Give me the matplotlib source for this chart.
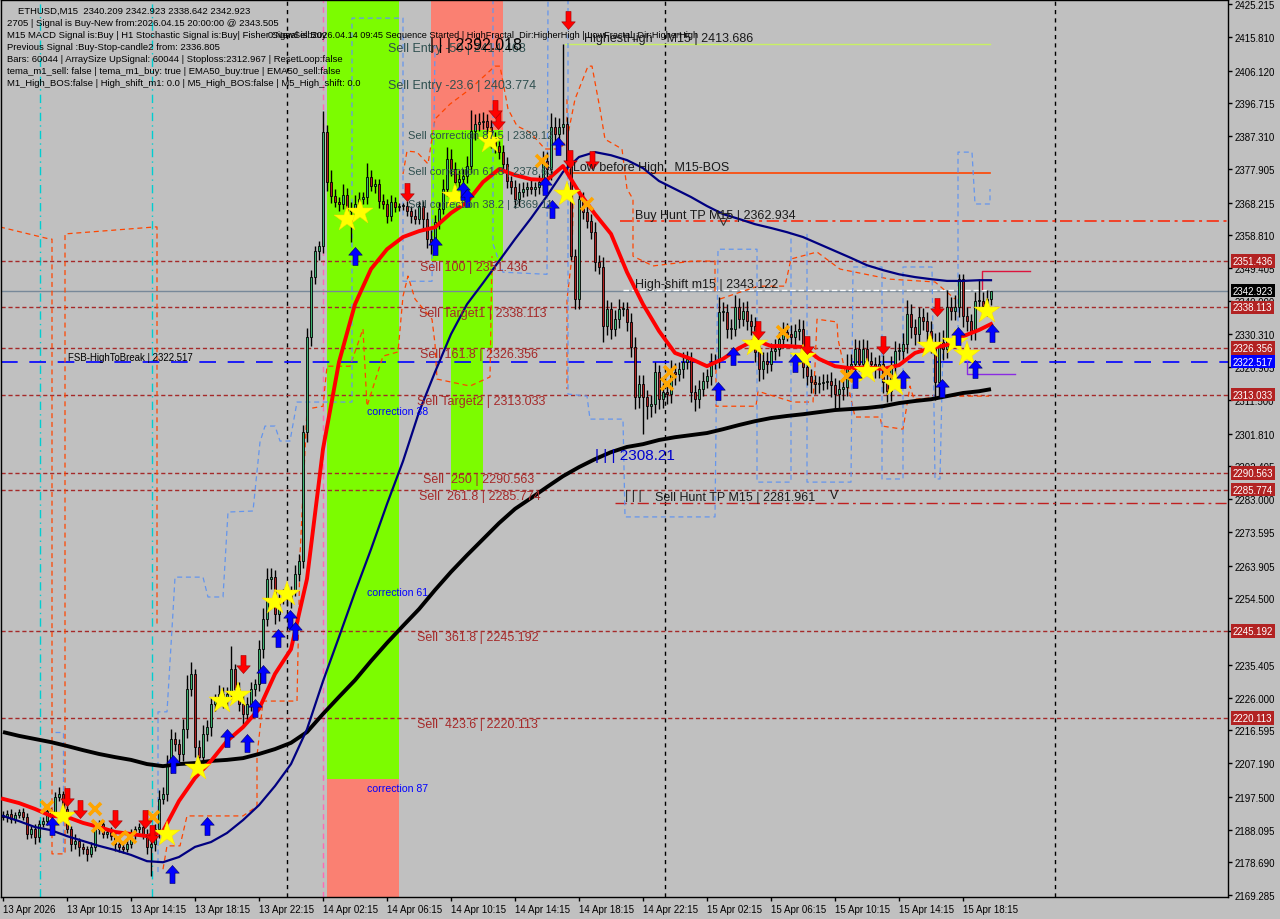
import matplotlib
matplotlib.use('Agg')
import matplotlib.pyplot as plt
from matplotlib.path import Path
from matplotlib.patches import Rectangle
import matplotlib.transforms as mtrans
import numpy as np

plt.rcParams['font.family'] = ['Liberation Sans', 'DejaVu Sans']

# ---------------- data ----------------
first_open = 2192.3
closes = [
 2191.7, 2192.6, 2191.1, 2192.3, 2193.1, 2191.7, 2186.8, 2188.2, 2185.9, 2189.7, 2190.5, 2193.4, 2192.6, 2197.4, 2198.3, 2194.0,
 2188.2, 2183.9, 2184.8, 2183.1, 2182.5, 2181.1, 2183.1, 2188.2, 2189.7, 2186.8, 2187.4, 2186.2, 2183.9, 2183.1, 2182.5, 2183.9,
 2186.8, 2188.2, 2188.8, 2186.8, 2183.1, 2183.9, 2188.2, 2196.9, 2198.3, 2206.9, 2214.1, 2212.7, 2209.8, 2216.9, 2228.5, 2232.8,
 2211.8, 2208.9, 2215.5, 2217.5, 2224.1, 2225.6, 2227.0, 2225.6, 2227.0, 2234.2, 2228.5, 2224.1, 2221.3, 2224.1, 2228.5, 2229.9,
 2239.9, 2248.6, 2260.1, 2260.6, 2250.0, 2254.3, 2255.7, 2254.3, 2256.6, 2261.5, 2265.2, 2302.3, 2329.6, 2346.8, 2354.3, 2355.7,
 2388.4, 2374.1, 2370.1, 2368.3, 2367.8, 2370.4, 2365.8, 2366.3, 2367.8, 2369.2, 2369.8, 2375.5, 2372.9, 2373.5, 2368.6, 2367.8,
 2364.3, 2368.3, 2366.9, 2367.2, 2367.2, 2365.8, 2364.3, 2363.5, 2367.2, 2363.5, 2357.7, 2356.9, 2362.6, 2366.3, 2372.1, 2380.7,
 2377.8, 2374.1, 2375.0, 2375.8, 2378.7, 2388.7, 2390.7, 2391.3, 2391.6, 2389.9, 2386.4, 2384.4, 2382.7, 2379.3, 2374.4, 2372.6,
 2369.2, 2371.2, 2372.1, 2372.6, 2372.1, 2372.6, 2374.1, 2380.1, 2377.8, 2389.9, 2387.9, 2389.9, 2390.7, 2379.8, 2352.8, 2340.5,
 2369.2, 2365.5, 2362.9, 2359.7, 2351.1, 2349.7, 2332.7, 2337.6, 2331.9, 2334.7, 2337.6, 2337.6, 2333.9, 2326.7, 2312.3, 2316.1,
 2312.3, 2309.7, 2310.3, 2319.5, 2311.8, 2313.8, 2313.2, 2319.5, 2318.9, 2320.4, 2322.4, 2323.2, 2313.8, 2311.8, 2314.6, 2316.9,
 2318.4, 2322.4, 2322.7, 2336.7, 2336.7, 2331.9, 2331.9, 2338.2, 2334.7, 2337.0, 2334.2, 2332.7, 2325.3, 2320.4, 2322.7, 2321.8,
 2325.5, 2326.1, 2329.0, 2331.0, 2330.4, 2329.6, 2331.3, 2331.9, 2320.9, 2318.4, 2316.6, 2316.1, 2316.4, 2316.6, 2316.9, 2315.8,
 2313.2, 2314.6, 2315.2, 2321.2, 2321.8, 2326.1, 2321.8, 2326.1, 2322.7, 2321.8, 2320.4, 2321.8, 2316.6, 2314.1, 2321.2, 2325.5,
 2325.5, 2327.6, 2336.2, 2332.4, 2330.4, 2335.3, 2334.2, 2331.3, 2328.1, 2316.6, 2328.1, 2326.1, 2338.2, 2337.0, 2338.2, 2346.2,
 2335.6, 2334.2, 2331.3, 2339.9, 2339.9, 2338.5, 2340.5, 2342.9]
wick_hi = [
 1.2,1.0,1.5,0.8,1.0,1.2,1.0,0.8,1.5,1.0,1.2,2.0,1.0,1.5,2.0,1.0,
 1.5,1.0,2.0,1.0,1.2,1.0,1.5,2.0,1.0,1.2,1.0,1.5,1.0,0.8,1.0,1.2,
 1.5,1.0,1.2,1.0,1.5,2.0,1.5,2.5,2.0,2.5,3.0,2.0,1.5,3.0,4.0,3.5,
 1.5,2.0,2.5,2.0,2.0,1.5,2.5,2.0,2.0,6.6,1.5,2.0,2.5,2.0,2.0,1.5,
 2.5,3.0,3.0,2.5,2.0,1.5,1.5,2.0,1.5,2.5,2.0,2.0,2.5,2.0,1.5,1.5,
 6.0,2.0,3.5,2.0,1.5,3.0,2.0,2.0,2.5,2.0,1.5,4.0,2.0,1.5,1.5,2.0,
 1.5,2.0,1.5,1.0,1.0,1.5,1.5,2.0,1.5,1.5,2.0,2.5,2.0,2.0,3.0,3.5,
 3.0,2.0,2.5,2.0,3.0,6.0,3.0,2.5,2.5,2.0,2.0,2.0,1.5,2.0,2.0,1.5,
 2.0,2.5,2.0,1.5,2.0,1.5,2.0,3.0,2.5,4.0,3.0,2.5,23.0,2.0,2.0,2.0,
 3.0,2.0,2.0,2.0,3.0,2.0,3.0,2.5,2.0,2.5,3.0,2.0,2.0,2.5,3.0,2.5,
 2.5,2.0,2.5,3.0,2.0,2.5,2.0,3.5,2.5,2.0,3.0,2.5,2.0,2.0,2.5,2.5,
 2.0,2.5,2.0,4.3,3.0,2.5,3.0,3.5,2.5,2.5,3.0,2.0,2.5,2.0,2.5,2.5,
 2.5,3.0,2.0,3.0,2.5,2.5,2.0,3.0,2.5,2.5,2.0,2.0,2.0,2.5,2.0,2.5,
 2.0,2.5,2.5,3.5,3.0,3.0,2.5,3.0,2.5,2.5,2.0,2.5,2.5,2.5,3.0,3.0,
 2.5,3.0,4.0,3.0,2.5,3.0,2.5,2.5,3.0,2.5,3.0,3.5,5.0,3.0,3.5,1.5,
 1.5,2.5,2.0,2.5,6.3,2.5,2.5,0.0]
wick_lo = [
 1.0,1.5,1.2,1.0,0.8,1.0,1.5,1.2,2.0,1.5,1.0,1.2,1.0,1.0,1.2,1.5,
 1.2,2.0,1.5,2.5,1.5,2.0,1.0,1.2,1.5,1.0,1.2,1.0,2.0,1.5,1.2,1.0,
 1.0,1.5,1.2,1.5,2.0,8.3,2.0,2.5,1.5,2.0,2.5,2.0,3.0,2.0,2.5,2.0,
 3.0,4.0,3.5,2.0,2.5,2.0,1.5,2.5,2.0,1.5,2.5,2.0,3.0,2.5,2.0,2.0,
 2.0,2.5,2.0,3.0,3.0,2.0,1.5,2.0,2.5,1.5,2.0,2.0,3.0,2.5,2.0,2.5,
 2.0,2.5,2.0,1.5,2.0,1.5,3.0,8.9,2.5,2.0,1.5,2.0,1.5,2.0,2.0,1.5,
 2.0,1.5,1.5,1.0,1.0,1.5,2.0,1.5,1.5,3.0,2.5,3.5,2.0,2.0,1.5,2.0,
 2.0,2.5,2.0,2.5,2.0,2.0,2.5,2.0,2.0,2.0,2.5,2.0,2.0,2.5,2.0,2.0,
 2.5,2.0,1.5,2.0,1.5,2.0,2.0,2.5,3.0,3.0,2.0,2.5,2.0,2.5,1.0,3.0,
 2.9,2.0,2.0,2.0,2.5,2.0,4.6,2.5,3.0,2.0,2.5,2.0,2.5,3.0,3.4,3.0,
 10.6,3.7,3.0,2.5,3.0,2.5,3.0,2.5,3.0,2.0,2.5,2.0,3.0,3.5,2.5,2.0,
 2.0,2.5,2.0,2.0,2.5,2.5,3.0,2.0,2.5,2.0,2.5,2.5,3.0,3.5,3.0,2.5,
 2.0,2.5,2.0,2.5,2.0,2.0,2.5,2.5,3.0,2.5,3.0,3.0,2.5,2.0,2.0,3.5,
 4.5,4.0,3.0,2.5,2.0,2.5,2.0,2.5,2.0,2.0,2.5,2.5,3.0,3.2,3.0,2.5,
 2.5,2.5,2.5,3.0,3.0,2.5,2.5,3.0,3.0,5.0,4.0,3.0,2.5,2.5,2.5,3.0,
 3.0,3.0,2.5,2.5,2.5,2.5,3.0,1.6]

ma_bars = list(range(0, 248, 4)) + [247]
ema_red = [2196.9, 2195.7, 2194.0, 2192.0, 2191.7, 2190.0, 2188.8, 2187.4, 2186.8, 2186.2, 2187.6, 2196.3, 2202.9,
           2207.8, 2213.5, 2217.5, 2222.7, 2232.8, 2239.9, 2260.1, 2297.4, 2322.4, 2339.0, 2349.1, 2354.8, 2358.3,
           2360.0, 2361.1, 2365.2, 2368.3, 2374.1, 2377.8, 2376.1, 2374.9, 2374.7, 2378.7, 2371.2, 2364.9, 2359.2,
           2348.2, 2339.0, 2331.3, 2325.0, 2323.3, 2321.2, 2323.3, 2326.4, 2328.7, 2327.0, 2327.0, 2326.7, 2323.3,
           2321.2, 2320.6, 2320.9, 2320.4, 2321.5, 2325.0, 2326.4, 2327.3, 2329.8, 2331.6, 2333.3]
ma_navy = [2192.0, 2190.5, 2188.8, 2187.9, 2186.2, 2184.8, 2183.4, 2182.2, 2180.8, 2179.0, 2178.7, 2180.2, 2183.1,
           2184.5, 2187.1, 2190.8, 2195.1, 2200.6, 2206.9, 2216.9, 2230.7, 2243.4, 2256.3, 2268.6, 2281.6, 2293.9,
           2308.0, 2319.5, 2330.4, 2339.0, 2345.1, 2351.4, 2357.7, 2363.7, 2370.1, 2377.0, 2381.3, 2382.7, 2381.8,
           2380.4, 2378.1, 2374.4, 2372.1, 2369.8, 2367.2, 2364.9, 2363.5, 2362.0, 2360.9, 2359.7, 2358.3, 2356.3,
           2354.3, 2352.3, 2350.2, 2348.8, 2347.6, 2346.8, 2346.2, 2345.7, 2345.7, 2345.9, 2345.9]
ma_black = [2216.1, 2215.0, 2214.1, 2213.2, 2212.1, 2210.9, 2209.8, 2208.9, 2208.1, 2206.9, 2206.3, 2206.9, 2207.2,
            2207.8, 2208.1, 2208.6, 2209.8, 2211.2, 2213.0, 2216.1, 2221.3, 2226.2, 2231.0, 2236.5, 2241.7, 2246.6,
            2251.4, 2256.9, 2262.1, 2266.9, 2271.5, 2276.1, 2280.2, 2283.3, 2286.5, 2289.6, 2292.2, 2294.5, 2296.5,
            2298.0, 2298.8, 2300.0, 2300.8, 2301.4, 2302.0, 2303.1, 2304.3, 2305.4, 2306.3, 2306.9, 2307.4, 2308.0,
            2308.6, 2308.9, 2309.2, 2309.7, 2310.6, 2311.2, 2311.7, 2312.6, 2313.5, 2314.0, 2314.6]

buy_arrow_bar = [12.25, 42.25, 42.5, 51, 56, 61, 63, 65, 68.75, 71.75, 73, 88, 108, 115, 116, 135.5, 137.25, 138.75,
                 178.75, 182.5, 198, 213, 225, 234.75, 238.75, 243, 247.25]
buy_arrow_price = [2189.1, 2175.3, 2206.9, 2189.1, 2214.4, 2212.9, 2223.0, 2232.8, 2243.1, 2248.6, 2245.1, 2352.8,
                   2355.7, 2371.5, 2369.5, 2372.9, 2366.3, 2384.4, 2314.0, 2324.1, 2322.1, 2317.5, 2317.5, 2314.9,
                   2329.8, 2320.4, 2330.7]
sell_arrow_bar = [16, 19.25, 28, 35.5, 37.25, 60, 101, 123.75, 123, 141.75, 147.25, 141.25, 188.75, 201, 220, 233.5]
sell_arrow_price = [2197.4, 2194.0, 2191.1, 2191.1, 2186.8, 2235.6, 2371.2, 2391.9, 2395.1, 2380.7, 2380.4, 2420.6,
                    2331.6, 2327.3, 2327.3, 2338.2]
star_bar = [15, 41, 48.75, 54.75, 58.75, 68, 71, 86, 89.25, 113, 121.75, 141, 188, 200, 216, 223, 231.75, 238, 241, 246]
star_price = [2192.0, 2186.8, 2205.8, 2225.0, 2226.7, 2253.4, 2255.7, 2363.5, 2365.5, 2370.1, 2385.9, 2370.6, 2327.5,
              2323.8, 2319.8, 2316.1, 2327.0, 2328.1, 2324.7, 2337.0]
cross_bar = [11, 23, 23.75, 28.75, 31.75, 37.5, 134.75, 146, 166.75, 166, 195, 211, 221]
cross_price = [2194.6, 2194.0, 2189.1, 2185.4, 2185.9, 2191.7, 2380.1, 2367.8, 2319.5, 2316.1, 2331.0, 2318.4, 2319.5]

sell_levels = [2351.436, 2338.113, 2326.356, 2313.033, 2290.563, 2285.774, 2245.192, 2220.113]
sell_level_names = ['Sell 100', 'Sell Target1', 'Sell 161.8', 'Sell Target2', 'Sell  250', 'Sell  261.8',
                    'Sell  361.8', 'Sell  423.6']
sell_label_bar = [104.25, 104, 104.25, 103.5, 105, 104, 103.5, 103.5]
fib_upper = [('Sell Entry -50 | 2414.468', 96.25, 2414.468, 9), ('Sell Entry -23.6 | 2403.774', 96.25, 2403.774, 9),
             ('Sell correction 87.5 | 2389.12', 101.25, 2389.12, 8), ('Sell correction 61.8 | 2378.63', 101.25, 2378.63, 8),
             ('Sell correction 38.2 | 2369.11', 101.25, 2369.11, 8)]
fsb_level = 2322.517
bid = 2342.923
buy_hunt_tp = 2362.934
sell_hunt_tp = 2281.961
highest_high = 2413.686
low_before_high = 2376.67
high_shift = 2343.122

# zones (bar start, bar end, price low, price high, colour)
zones = [(81, 99, 2202.6, 2430.0, '#7CFC00'), (81, 99, 2160.0, 2202.6, '#FA8072'),
         (107, 125, 2389.12, 2430.0, '#FA8072'), (107, 125, 2351.436, 2389.12, '#7CFC00'),
         (110, 122.5, 2326.356, 2351.436, '#7CFC00'), (112, 120, 2285.774, 2326.356, '#7CFC00')]

orange_lines = [
 [(-0.75, 2361.2), (11.75, 2357.7), (12.25, 2357.7), (12.25, 2181.1), (15.5, 2181.1), (15.5, 2359.2), (38, 2361.2),
  (38.5, 2361.2), (38.5, 2246.3)],
 [(40, 2176.7), (41, 2183.4), (44.25, 2183.4), (46, 2192.0), (60, 2192.0), (63.5, 2194.8), (63.5, 2209.2), (65, 2225.0),
  (73.5, 2225.0), (74.25, 2266.7), (76, 2308.9), (80, 2309.7), (81, 2321.2), (86.75, 2321.2), (90, 2331.9),
  (91, 2309.7), (95, 2324.1), (98.75, 2325.3), (100, 2341.3), (101.25, 2347.1), (103, 2340.5), (107.25, 2334.7),
  (108, 2327.6), (108.5, 2317.5), (116.75, 2315.5), (121.75, 2318.1), (122.25, 2352.8)],
 [(100, 2376.4), (101, 2383.0), (103.5, 2382.7), (106.25, 2379.3), (108, 2392.2), (111.75, 2396.5), (116.75, 2400.8),
  (123, 2407.4), (124.25, 2407.4), (126.25, 2395.1), (128.5, 2390.2), (131.75, 2388.4), (135.5, 2383.6),
  (139.25, 2383.6), (141, 2386.4), (143, 2397.9), (146.25, 2407.4), (147.25, 2407.4), (149.25, 2395.1),
  (150.5, 2386.4), (154.75, 2383.6), (156, 2372.1), (157.5, 2369.2), (157.5, 2352.8), (162.5, 2350.0),
  (172.5, 2351.4), (178, 2351.4), (178, 2341.9)],
 [(141, 2397.9), (141, 2380.7), (142.25, 2374.1), (142.5, 2366.3), (142.25, 2352.8), (141, 2340.5), (141, 2314.6)],
 [(178.25, 2320.4), (178.25, 2309.7), (188.25, 2309.7), (188.75, 2314.0), (197.5, 2310.9), (202.5, 2310.9),
  (203, 2321.2), (203.5, 2334.7), (208.5, 2333.9), (208.75, 2329.0), (213, 2306.6), (219.25, 2306.6),
  (219.75, 2304.0), (225, 2303.1), (226.75, 2315.5), (227.75, 2311.7), (237.5, 2312.6), (246.5, 2312.6)],
 [(179.25, 2340.5), (188.75, 2344.2), (195.5, 2344.2), (197, 2352.0), (203.5, 2354.0), (209.25, 2349.1),
  (221.75, 2346.2), (233, 2345.4), (238, 2340.5)]]
blue_lines = [
 [(13, 2216.1), (15, 2216.1), (15, 2181.6)],
 [(38.75, 2175.9), (38.75, 2221.9), (41, 2221.9), (42.5, 2250.6), (43, 2260.6), (50, 2260.6), (51.25, 2254.9),
  (55, 2254.9), (56.25, 2279.3), (62.5, 2279.6), (64.25, 2299.4), (65.5, 2304.0), (68, 2304.0), (69.25, 2299.7),
  (71.75, 2299.7), (73.5, 2310.9), (87.25, 2310.9), (87.25, 2421.2), (100, 2421.2), (100, 2345.6), (107.25, 2345.6),
  (108, 2413.2)],
 [(122.5, 2426.6), (122.5, 2356.3), (125, 2348.2), (136, 2347.6), (136.25, 2426.6)],
 [(141.25, 2426.6), (141.25, 2313.2), (146, 2312.6), (146.75, 2306.0), (155, 2306.0), (155.5, 2277.9), (178, 2277.9),
  (178.75, 2354.8), (188.5, 2354.8), (188.5, 2287.9), (197, 2287.9), (197, 2359.2)],
 [(201, 2359.2), (201, 2287.9), (212, 2287.9), (212.5, 2349.7), (219.75, 2349.7), (219.75, 2288.8), (225, 2288.8),
  (225, 2349.7), (232.25, 2349.7), (233, 2288.8), (234.25, 2288.8), (235, 2327.6), (238.75, 2327.6), (238.75, 2382.7),
  (242.25, 2382.7), (243, 2367.8), (246.75, 2367.8), (246.75, 2372.1)]]

y_ticks = [2425.215, 2415.810, 2406.120, 2396.715, 2387.310, 2377.905, 2368.215, 2358.810, 2349.405, 2340.000,
           2330.310, 2320.905, 2311.500, 2301.810, 2292.405, 2283.000, 2273.595, 2263.905, 2254.500, 2245.095,
           2235.405, 2226.000, 2216.595, 2207.190, 2197.500, 2188.095, 2178.690, 2169.285]
x_tick_bars = list(range(0, 241, 16))
x_tick_labels = ['13 Apr 2026', '13 Apr 10:15', '13 Apr 14:15', '13 Apr 18:15', '13 Apr 22:15', '14 Apr 02:15',
                 '14 Apr 06:15', '14 Apr 10:15', '14 Apr 14:15', '14 Apr 18:15', '14 Apr 22:15', '15 Apr 02:15',
                 '15 Apr 06:15', '15 Apr 10:15', '15 Apr 14:15', '15 Apr 18:15']
day_separators = [71, 165.5, 263]

header_lines = ['ETHUSD,M15  2340.209 2342.923 2338.642 2342.923',
                '2705 | Signal is Buy-New from:2026.04.15 20:00:00 @ 2343.505',
                'M15 MACD Signal is:Buy | H1 Stochastic Signal is:Buy| Fisher Signal is:Buy',
                'Previous Signal :Buy-Stop-candle2 from: 2336.805',
                'Bars: 60044 | ArraySize UpSignal: 60044 | Stoploss:2312.967 | ResetLoop:false',
                'tema_m1_sell: false | tema_m1_buy: true | EMA50_buy:true | EMA50_sell:false',
                'M1_High_BOS:false | High_shift_m1: 0.0 | M5_High_BOS:false | M5_High_shift: 0.0']

# ---------------- figure ----------------
BG = '#C0C0C0'
fig = plt.figure(figsize=(12.8, 9.2), dpi=100)
fig.patch.set_facecolor(BG)
ax = fig.add_axes([1 / 1280, 22 / 920, 1227 / 1280, 897 / 920])
ax.set_facecolor(BG)
ax.set_xlim(-0.5, 306.25)
ax.set_ylim(2168.71, 2426.4)
for s in ax.spines.values():
    s.set_color('black')
    s.set_linewidth(1.0)

# zones
for x0, x1, p0, p1, c in zones:
    ax.add_patch(Rectangle((x0, p0), x1 - x0, p1 - p0, facecolor=c, edgecolor='none', zorder=0.5))

# vertical lines
for b in day_separators:
    ax.axvline(b, color='black', lw=1, ls=(0, (3, 3)), zorder=1)
for b, c in [(9.25, '#00CED1'), (37.25, '#00CED1')]:
    ax.axvline(b, color=c, lw=1, ls=(0, (6, 3, 1, 3)), zorder=1)
ax.axvline(80, color='#FF69B4', lw=1, ls=(0, (4, 3)), zorder=1)

# horizontal levels
for lv in sell_levels:
    ax.axhline(lv, color='#A52A2A', lw=1, ls=(0, (3, 2)), zorder=1.2)
ax.axhline(fsb_level, color='#0000FF', lw=1.2, ls=(0, (10, 7)), zorder=1.2)
ax.axhline(bid, color='#778899', lw=1, zorder=1.2)
ax.plot([154.25, 306.25], [buy_hunt_tp] * 2, color='#FF2000', lw=1.1, ls=(0, (8, 3, 2, 3)), zorder=1.3)
ax.plot([153, 306.25], [sell_hunt_tp] * 2, color='#C02020', lw=1, ls=(0, (8, 3, 2, 3)), zorder=1.3)
ax.plot([140.5, 246.75], [highest_high] * 2, color='#C8F064', lw=1, zorder=1.3)
ax.plot([141.75, 246.75], [low_before_high] * 2, color='#FF4500', lw=1.2, zorder=1.3)
ax.plot([155, 246.75], [high_shift] * 2, color='white', lw=1, ls=(0, (4, 2)), zorder=1.4)
ax.plot([244.75, 244.75, 256.75], [2343.4, 2348.5, 2348.5], color='#DC143C', lw=1, zorder=1.4)
ax.plot([241, 241, 253], [2322.6, 2318.9, 2318.9], color='#8A2BE2', lw=1, zorder=1.4)

# envelope step lines
for pts in orange_lines:
    xs, ys = zip(*pts)
    ax.plot(xs, ys, color='#FF4500', lw=0.9, ls=(0, (4, 3)), zorder=2)
for pts in blue_lines:
    xs, ys = zip(*pts)
    ax.plot(xs, ys, color='#6495ED', lw=0.9, ls=(0, (4, 3)), zorder=2)

# candles
c = np.array(closes)
o = np.array([first_open] + closes[:-1])
x = np.arange(len(c))
top = np.maximum(o, c)
bot = np.minimum(o, c)
hi = top + np.array(wick_hi)
lo = bot - np.array(wick_lo)
ax.vlines(x, lo, hi, color='black', lw=1, zorder=4)
cols = np.where(c >= o, '#3CB371', '#B22222')
ax.bar(x, np.maximum(top - bot, 0.3), bottom=bot, width=0.72, color=cols, edgecolor='black', linewidth=0.6, zorder=5)

# moving averages
ax.plot(ma_bars, ma_black, color='black', lw=2.8, zorder=6, solid_capstyle='butt')
ax.plot(ma_bars, ma_navy, color='#000080', lw=1.6, zorder=6)
ax.plot(ma_bars, ema_red, color='#FF0000', lw=2.8, zorder=6.5)

# markers
up_path = Path([(0, 1), (-0.75, 0.15), (-0.28, 0.15), (-0.28, -1), (0.28, -1), (0.28, 0.15), (0.75, 0.15), (0, 1)],
               [Path.MOVETO] + [Path.LINETO] * 6 + [Path.CLOSEPOLY])
dn_path = Path([(vx, -vy) for vx, vy in up_path.vertices], up_path.codes)
ax.plot(cross_bar, cross_price, ls='none', marker='x', ms=9, mew=2.6, color='#FFA500', zorder=7)
ax.plot(star_bar, star_price, ls='none', marker='*', ms=19, color='#FFFF00', mec='#FFD700', mew=0.3, zorder=7.2)
ax.plot(buy_arrow_bar, buy_arrow_price, ls='none', marker=up_path, ms=13, color='#0000FF', mec='#000060',
        mew=0.4, zorder=7.5)
ax.plot(sell_arrow_bar, sell_arrow_price, ls='none', marker=dn_path, ms=13, color='#FF0000', mec='#A00000',
        mew=0.4, zorder=7.5)

# texts
txt = dict(zorder=9, clip_on=False)
for s, b, p, fs in fib_upper:
    ax.text(b, p, s, color='#2F4F4F', fontsize=fs, ha='left', va='top', **txt)
for name, lv, b in zip(sell_level_names, sell_levels, sell_label_bar):
    ax.text(b, lv, f'{name} | {lv:.3f}', color='#A52A2A', fontsize=9, ha='left', va='top', **txt)
ax.text(106.75, 2413.7, '| | | 2392.018', color='black', fontsize=11.5, ha='left', va='center', **txt)
ax.text(145.25, highest_high, 'HighestHigh    M15 | 2413.686', color='#1A1A1A', fontsize=9, ha='left',
        va='bottom', **txt)
ax.text(142.5, low_before_high, 'Low before High   M15-BOS', color='#1A1A1A', fontsize=9, ha='left',
        va='bottom', **txt)
ax.text(158, buy_hunt_tp, 'Buy Hunt TP M15 | 2362.934', color='#1A1A1A', fontsize=9, ha='left', va='bottom', **txt)
ax.plot([180], [2363.5], ls='none', marker='v', ms=8, mfc='none', mec='#303030', mew=0.8, zorder=8)
ax.text(158, high_shift, 'High-shift m15 | 2343.122', color='#1A1A1A', fontsize=9, ha='left', va='bottom', **txt)
ax.text(163, sell_hunt_tp, 'Sell Hunt TP M15 | 2281.961', color='#1A1A1A', fontsize=9, ha='left',
        va='bottom', **txt)
ax.text(155.5, sell_hunt_tp + 0.6, '| | |', color='#1A1A1A', fontsize=9, ha='left', va='bottom', **txt)
ax.text(206.75, sell_hunt_tp + 0.6, 'V', color='#1A1A1A', fontsize=9, ha='left', va='bottom', **txt)
ax.text(148, 2295.6, '| | | 2308.21', color='#0000CD', fontsize=11, ha='left', va='center', **txt)
ax.text(16.25, fsb_level, 'FSB-HighToBreak | 2322.517', color='black', fontsize=6.9, ha='left', va='bottom', **txt)
for s, p in [('correction 38', 2308.3), ('correction 61', 2256.3), ('correction 87', 2200.0)]:
    ax.text(91, p, s, color='#0000FF', fontsize=7.6, ha='left', va='center', **txt)

# header
hy = [11, 24, 36, 48, 60, 72, 84]
hx = [18, 7, 7, 7, 7, 7, 7]
for s, yy, xx in zip(header_lines, hy, hx):
    fig.text(xx / 1280, 1 - yy / 920, s, fontsize=6.8, color='black', ha='left', va='center')
fig.text(268 / 1280, 1 - 36 / 920,
         '0:NewSell:2026.04.14 09:45 Sequence Started | HighFractal_Dir:HigherHigh | LowFractal_Dir:HigherHigh',
         fontsize=6.6, color='black', ha='left', va='center')

# axes ticks
ax.yaxis.tick_right()
ax.set_yticks(y_ticks)
ax.set_yticklabels([f'{t:.3f}' for t in y_ticks])
ax.tick_params(axis='y', direction='out', length=3, width=1, labelsize=7, pad=2, colors='black')
ax.set_xticks(x_tick_bars)
ax.set_xticklabels(x_tick_labels)
ax.tick_params(axis='x', direction='out', length=3, width=1, labelsize=7, pad=2)
for lbl in ax.get_xticklabels():
    lbl.set_horizontalalignment('left')

# price boxes on right axis
btr = mtrans.blended_transform_factory(ax.transAxes, ax.transData)
boxes = [(2351.436, '#B22222'), (2338.113, '#B22222'), (2326.356, '#B22222'), (2313.033, '#B22222'),
         (2290.563, '#B22222'), (2285.774, '#B22222'), (2245.192, '#B22222'), (2220.113, '#B22222'),
         (fsb_level, '#0000FF'), (bid, '#000000')]
for p, col in boxes:
    ax.text(1.0038, p, f'{p:.3f}', transform=btr, color='white', fontsize=7, ha='left', va='center',
            bbox=dict(boxstyle='square,pad=0.18', fc=col, ec='none'), zorder=10, clip_on=False)

fig.savefig('out.png', dpi=100, facecolor=BG)
